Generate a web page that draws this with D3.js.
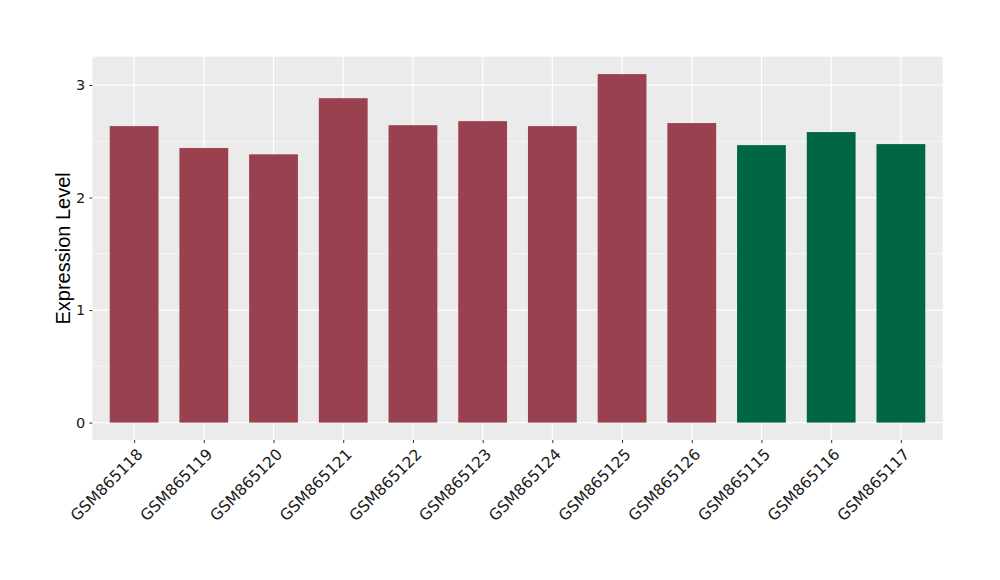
<!DOCTYPE html>
<html><head><meta charset="utf-8">
<script src="https://cdn.jsdelivr.net/npm/d3@7"></script>
<style>body{margin:0;background:#fff}</style>
</head><body>
<script>
const categories = ["GSM865118","GSM865119","GSM865120","GSM865121","GSM865122","GSM865123","GSM865124","GSM865125","GSM865126","GSM865115","GSM865116","GSM865117"];
const values = [2.635,2.44,2.384,2.883,2.643,2.679,2.635,3.097,2.662,2.466,2.582,2.475];
const groups = ["A","A","A","A","A","A","A","A","A","B","B","B"];
const yTicks = [0,1,2,3];
const colors = {A:"#99414f", B:"#006645"};

const W=1000,H=580;
const L=92.3,R=942.7,T=56.7,B=440;
const svg=d3.select("body").append("svg").attr("width",W).attr("height",H);
const ymax=d3.max(values);
const pad=(ymax-0)*0.05;
const y=d3.scaleLinear().domain([0-pad,ymax+pad]).range([B,T]);
const x=d3.scalePoint().domain(categories).range([L,R]).padding(0.6);
const step=x.step();
const bw=step*0.7;

svg.append("rect").attr("x",L).attr("y",T).attr("width",R-L).attr("height",B-T).attr("fill","#ebebeb");
const minor=[0.5,1.5,2.5];
svg.selectAll(".mg").data(minor).enter().append("line")
 .attr("x1",L).attr("x2",R).attr("y1",d=>y(d)).attr("y2",d=>y(d)).attr("stroke","#fff").attr("stroke-width",0.6);
svg.selectAll(".gy").data(yTicks).enter().append("line")
 .attr("x1",L).attr("x2",R).attr("y1",d=>y(d)).attr("y2",d=>y(d)).attr("stroke","#fff").attr("stroke-width",1.2);
svg.selectAll(".gx").data(categories).enter().append("line")
 .attr("y1",T).attr("y2",B).attr("x1",d=>x(d)).attr("x2",d=>x(d)).attr("stroke","#fff").attr("stroke-width",1.2);

svg.selectAll(".bar").data(categories).enter().append("rect")
 .attr("x",d=>x(d)-bw/2).attr("width",bw)
 .attr("y",(d,i)=>y(values[i])).attr("height",(d,i)=>y(0)-y(values[i]))
 .attr("fill",(d,i)=>colors[groups[i]]);

const ya=svg.append("g").attr("transform",`translate(${L},0)`)
 .call(d3.axisLeft(y).tickValues(yTicks).tickSize(3).tickPadding(4).tickFormat(d3.format("d")));
ya.select(".domain").remove();
ya.selectAll("line").attr("stroke","#333");
ya.selectAll("text").attr("font-family","DejaVu Sans, sans-serif").attr("font-size",14.5).attr("fill","#1a1a1a");

const xa=svg.append("g").attr("transform",`translate(0,${B})`)
 .call(d3.axisBottom(x).tickSize(3).tickPadding(3));
xa.select(".domain").remove();
xa.selectAll("line").attr("stroke","#333");
xa.selectAll("text").attr("font-family","DejaVu Sans, sans-serif").attr("font-size",15.5).attr("fill","#1a1a1a")
 .attr("text-anchor","end").attr("dy",null).attr("y",0)
 .attr("transform","translate(6,12) rotate(-45)")
 .attr("dominant-baseline","middle");

svg.append("text").attr("transform",`translate(70,${(T+B)/2}) rotate(-90)`)
 .attr("text-anchor","middle").attr("font-family","Liberation Sans, Arial, sans-serif").attr("font-size",20).attr("fill","#000")
 .text("Expression Level");
</script>
</body></html>
